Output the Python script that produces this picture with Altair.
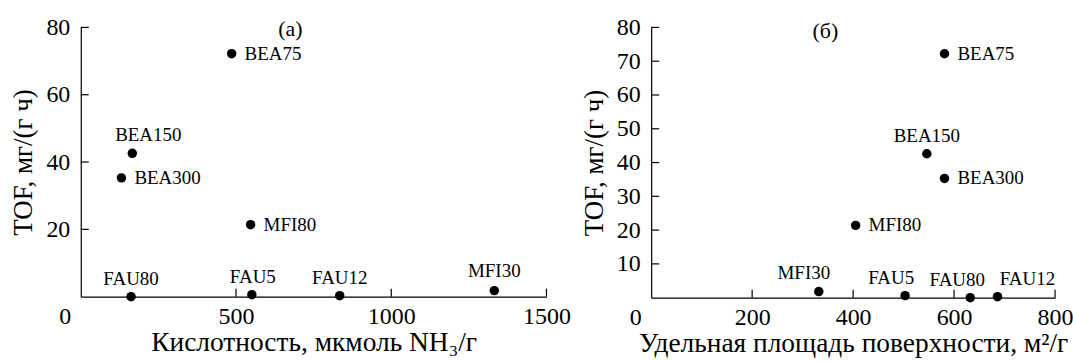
import altair as alt
import pandas as pd

# ---- data ----
names = ["BEA75", "BEA150", "BEA300", "MFI80", "MFI30", "FAU5", "FAU12", "FAU80"]
tof = [72.2, 42.6, 35.3, 21.4, 1.8, 0.6, 0.3, 0.0]
acidity = [486, 166, 131, 547, 1332, 551, 834, 162]
surface = [581, 546, 581, 405, 332, 503, 686, 632]

x_ticks_a = [0, 500, 1000, 1500]
y_ticks_a = [20, 40, 60, 80]
x_ticks_b = [0, 200, 400, 600, 800]
y_ticks_b = [10, 20, 30, 40, 50, 60, 70, 80]

# panel letters (annotation text and its spot in data units)
letters = ["(a)", "(б)"]
letter_spot = [(675, 79.5), (345, 79.0)]

# ---- label placement (style): align, dx, dy, baseline ----
RIGHT = ("left", 13, 0, "middle")
def above(dx, dy=-12):
    return ("center", dx, dy, "alphabetic")

place_a = {"BEA75": RIGHT, "BEA150": above(16), "BEA300": RIGHT, "MFI80": RIGHT,
           "MFI30": above(0, -14), "FAU5": above(1), "FAU12": above(0), "FAU80": above(0)}
place_b = {"BEA75": RIGHT, "BEA150": above(0), "BEA300": RIGHT, "MFI80": RIGHT,
           "MFI30": above(-15, -13), "FAU5": above(-14), "FAU12": above(30), "FAU80": above(-13)}

FONT = "Liberation Serif, Times New Roman, serif"
TICK = 8

df = pd.DataFrame({"name": names, "tof": tof, "acid": acidity, "area": surface})


def panel(xfield, xdomain, xticks, yticks, xtitle, letter, spot, W, H, place):
    xs = alt.Scale(domain=xdomain, nice=False, zero=False)
    ys = alt.Scale(domain=[0, 80], nice=False)
    xaxis = alt.Axis(values=xticks, ticks=False, grid=False, labelFlush=False, labelOverlap=False,
                     format="d",
                     labelFont=FONT, labelFontSize=24, labelPadding=8, labelColor="black",
                     labelOffset={"condition": {"test": "datum.value === 0", "value": -16}, "value": 0},
                     domainColor="black", domainWidth=1.2,
                     title=xtitle, titleFont=FONT, titleFontSize=27.5, titleFontWeight="normal",
                     titleColor="black", titlePadding=0)
    yaxis = alt.Axis(values=yticks, ticks=False, grid=False, labelOverlap=False, format="d",
                     labelFont=FONT, labelFontSize=24, labelPadding=11, labelColor="black",
                     domainColor="black", domainWidth=1.2,
                     title="TOF, мг/(г ч)", titleFont=FONT, titleFontSize=27,
                     titleFontWeight="normal", titleColor="black", titlePadding=8)

    base = alt.Chart(df)
    pts = base.mark_circle(size=90, color="black", opacity=1).encode(
        x=alt.X(f"{xfield}:Q", scale=xs, axis=xaxis),
        y=alt.Y("tof:Q", scale=ys, axis=yaxis),
    )
    layers = [pts]
    for nm, (al, dx, dy, bl) in place.items():
        layers.append(
            base.transform_filter(alt.datum.name == nm).mark_text(
                font=FONT, fontSize=19, color="black", align=al, dx=dx, dy=dy, baseline=bl
            ).encode(x=alt.X(f"{xfield}:Q", scale=xs, axis=xaxis),
                     y=alt.Y("tof:Q", scale=ys, axis=yaxis), text="name:N")
        )
    xt = alt.Chart(pd.DataFrame({"v": xticks[1:]})).mark_rule(color="black", strokeWidth=1.2).encode(
        x=alt.X("v:Q", scale=xs, axis=xaxis), y=alt.value(H), y2=alt.value(H - TICK))
    yt = alt.Chart(pd.DataFrame({"v": yticks})).mark_rule(color="black", strokeWidth=1.2).encode(
        y=alt.Y("v:Q", scale=ys, axis=yaxis), x=alt.value(0), x2=alt.value(TICK))
    lt = alt.Chart(pd.DataFrame({"t": [letter], "lx": [spot[0]], "ly": [spot[1]]})).mark_text(
        font=FONT, fontSize=22, color="black", align="center", baseline="middle").encode(
        text="t:N", x=alt.X("lx:Q", scale=xs, axis=xaxis), y=alt.Y("ly:Q", scale=ys, axis=yaxis))
    layers += [xt, yt, lt]
    return alt.layer(*layers).properties(width=W, height=H)


pa = panel("acid", [0, 1500], x_ticks_a, y_ticks_a, "Кислотность, мкмоль NH₃/г",
           letters[0], letter_spot[0], 467, 270, place_a)
pb = panel("area", [0, 800], x_ticks_b, y_ticks_b, "Удельная площадь поверхности, м²/г",
           letters[1], letter_spot[1], 405, 271, place_b)

chart = alt.hconcat(pa, pb, spacing=10).properties(
    padding={"left": 10, "top": 15, "right": 0, "bottom": 0}
).configure(background="white", font=FONT).configure_view(stroke=None).configure_text(
    font=FONT).configure_axis(labelFont=FONT, titleFont=FONT)

chart.save("out.html", embed_options={"renderer": "svg", "actions": False})
